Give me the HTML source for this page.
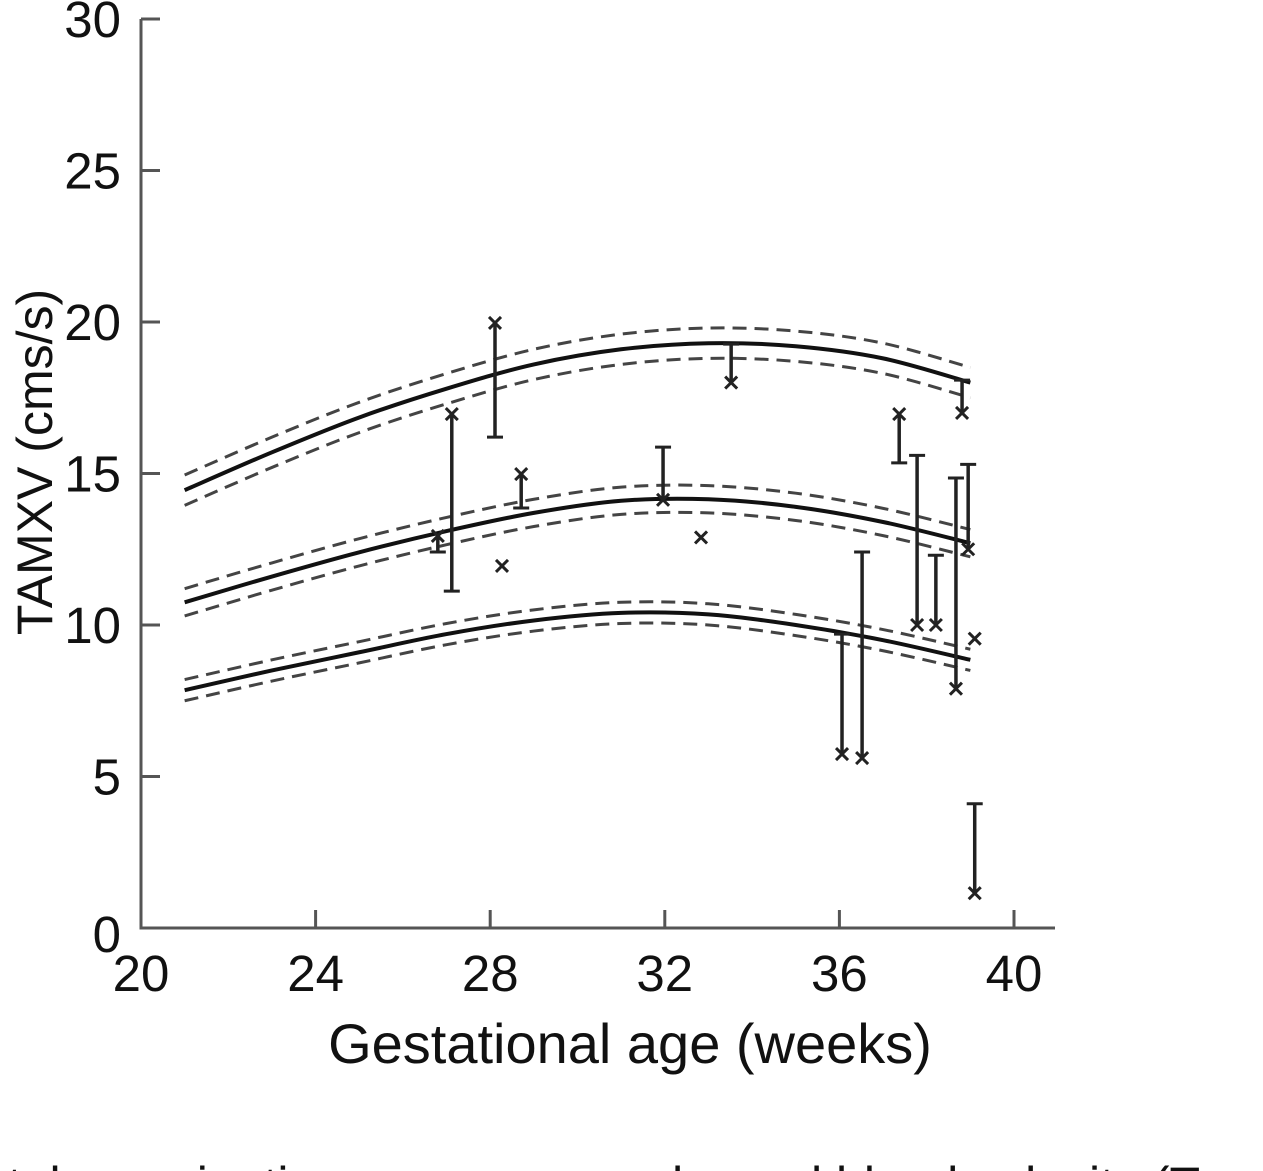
<!DOCTYPE html>
<html><head><meta charset="utf-8"><style>
html,body{margin:0;padding:0;background:#fff;overflow:hidden;width:1263px;height:1171px}
svg{display:block}
text{font-family:"Liberation Sans",sans-serif;fill:#111}
</style></head><body>
<svg id="chart" width="1263" height="1171" viewBox="0 0 1263 1171" xmlns="http://www.w3.org/2000/svg">
<g id="axes"></g>
<g id="curves"></g>
<g id="points"></g>
<text transform="translate(52,462) rotate(-90)" text-anchor="middle" font-size="50">TAMXV (cms/s)</text>
<text x="630" y="1063" text-anchor="middle" font-size="56">Gestational age (weeks)</text>
<text x="-20" y="1202" font-size="50">ntal examination was compared... and blood velocity (T</text>
</svg>
<script>
const xTicks=[20,24,28,32,36,40];
const yTicks=[0,5,10,15,20,25,30];
const curveWeeks=[21,23,25,27,29,31,33,35,37,39];
const upperCurve=[14.45,15.7,16.85,17.8,18.6,19.1,19.3,19.2,18.8,18.0];
const middleCurve=[10.75,11.6,12.4,13.1,13.7,14.1,14.15,13.9,13.4,12.7];
const lowerCurve=[7.85,8.5,9.1,9.7,10.15,10.4,10.35,10.0,9.5,8.85];
const bandWidth=[0.5,0.45,0.35];
const ptWeeks=[26.8,27.12,28.11,28.27,28.71,31.96,32.83,33.52,36.06,36.52,37.37,37.78,38.21,38.67,38.81,38.95,39.1,39.1];
const ptValues=[12.94,16.96,19.97,11.95,14.98,14.13,12.89,18.0,5.74,5.61,16.96,10.0,10.0,7.9,17.0,12.5,9.55,1.15];
const ptBarEnd=[12.41,11.12,16.2,null,13.86,15.87,null,19.27,9.7,12.41,15.35,15.6,12.3,14.85,18.08,15.3,null,4.1];

const NS="http://www.w3.org/2000/svg";
const X=w=>141+(w-20)*(1014-141)/20;
const Y=v=>928-v*(928-19)/30;
function mk(tag,attrs,parent){const e=document.createElementNS(NS,tag);for(const k in attrs)e.setAttribute(k,attrs[k]);parent.appendChild(e);return e;}
const axes=document.getElementById('axes');
let e=mk('line',{x1:141,y1:19,x2:141,y2:929.5,stroke:'#555','stroke-width':3},axes);


e=mk('line',{x1:139.5,y1:928,x2:1055,y2:928,stroke:'#555','stroke-width':3},axes);


xTicks.forEach(t=>{
  const l=mk('line',{x1:X(t),y1:928,x2:X(t),y2:910,stroke:'#555','stroke-width':3},axes);
  
  
  const tx=mk('text',{x:X(t),y:991,'text-anchor':'middle','font-size':51},axes);tx.textContent=t;
  
  
});
yTicks.forEach(t=>{
  if(t>0){const l=mk('line',{x1:141,y1:Y(t),x2:160,y2:Y(t),stroke:'#555','stroke-width':3},axes);
  
  }
  const tx=mk('text',{x:121,y:Y(t)+(t===0?24:18),'text-anchor':'end','font-size':51},axes);tx.textContent=t;
  
  
});
function spline(pts){let d=`M${pts[0][0]},${pts[0][1]}`;for(let i=0;i<pts.length-1;i++){const p0=pts[i-1]||pts[i],p1=pts[i],p2=pts[i+1],p3=pts[i+2]||p2;
d+=` C${p1[0]+(p2[0]-p0[0])/6},${p1[1]+(p2[1]-p0[1])/6} ${p2[0]-(p3[0]-p1[0])/6},${p2[1]-(p3[1]-p1[1])/6} ${p2[0]},${p2[1]}`;}return d;}
const cg=document.getElementById('curves');
[upperCurve,middleCurve,lowerCurve].forEach((c,ci)=>{
  const mid=curveWeeks.map((w,i)=>[X(w),Y(c[i])]);
  const p=mk('path',{d:spline(mid),fill:'none',stroke:'#111','stroke-width':4},cg);
  
  
  [-1,1].forEach(s=>{
    const b=curveWeeks.map((w,i)=>[X(w),Y(c[i]+s*bandWidth[ci])]);
    const q=mk('path',{d:spline(b),fill:'none',stroke:'#444','stroke-width':3,'stroke-dasharray':'14 8'},cg);
    
    
  });
});
const pg=document.getElementById('points');
ptWeeks.forEach((w,i)=>{
  const x=X(w),y=Y(ptValues[i]);
  if(ptBarEnd[i]!==null){const y2=Y(ptBarEnd[i]);
    const l=mk('line',{x1:x,y1:y,x2:x,y2:y2,stroke:'#222','stroke-width':3.5},pg);
    
    
    const cap=mk('line',{x1:x-8,y1:y2,x2:x+8,y2:y2,stroke:'#222','stroke-width':3},pg);
    
    }
  const m=mk('path',{d:`M${x-6},${y-6}L${x+6},${y+6}M${x+6},${y-6}L${x-6},${y+6}`,stroke:'#222','stroke-width':3},pg);
  
  
});
</script>
</body></html>
